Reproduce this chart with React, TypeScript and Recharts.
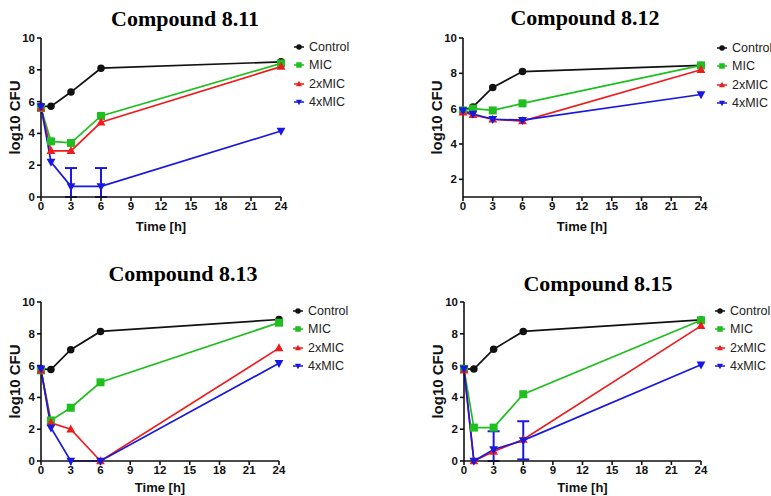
import React from 'react';
import { LineChart, Line, XAxis, YAxis, Legend, ErrorBar } from 'recharts';

const times = [0, 1, 3, 6, 24];
const timeTicks = [0, 3, 6, 9, 12, 15, 18, 21, 24];
const seriesNames = ['Control', 'MIC', '2xMIC', '4xMIC'];
const seriesKeys = ['control', 'mic', 'mic2', 'mic4'];
const seriesColors = ['#111111', '#1fbf1f', '#ee1c1c', '#1818e0'];

// Compound 8.11
const c811Control = [5.7, 5.7, 6.6, 8.1, 8.5];
const c811Mic = [5.6, 3.5, 3.4, 5.1, 8.4];
const c811Mic2 = [5.6, 2.9, 2.9, 4.7, 8.2];
const c811Mic4 = [5.7, 2.2, 0.67, 0.67, 4.15];
const c811Err4 = [null, null, [0.67, 1.15], [0.67, 1.15], null];

// Compound 8.12
const c812Control = [5.9, 6.1, 7.2, 8.1, 8.45];
const c812Mic = [5.9, 6.0, 5.9, 6.3, 8.45];
const c812Mic2 = [5.8, 5.65, 5.4, 5.3, 8.2];
const c812Mic4 = [5.9, 5.7, 5.4, 5.35, 6.8];

// Compound 8.13
const c813Control = [5.8, 5.75, 7.0, 8.15, 8.9];
const c813Mic = [5.7, 2.55, 3.35, 4.95, 8.7];
const c813Mic2 = [5.7, 2.4, 2.0, 0, 7.1];
const c813Mic4 = [5.8, 2.1, 0, 0, 6.15];

// Compound 8.15
const c815Control = [5.8, 5.78, 7.03, 8.15, 8.87];
const c815Mic = [5.8, 2.1, 2.1, 4.2, 8.85];
const c815Mic2 = [5.7, 0, 0.6, 1.35, 8.5];
const c815Mic4 = [5.8, 0, 0.72, 1.3, 6.05];
const c815Err4 = [null, null, [0.72, 1.15], [1.2, 1.2], null];

const yTicksFull = [0, 2, 4, 6, 8, 10];
const yTicksFrom2 = [2, 4, 6, 8, 10];

const W = 386;
const PLOT_H = 159;
const Y_AXIS_W = 35;
const X_AXIS_H = 36;

const marker = (i: number, cx: number, cy: number, s: number, color: string, key?: any) => {
  if (i === 0) return <circle key={key} cx={cx} cy={cy} r={s / 2} fill={color} />;
  if (i === 1) return <rect key={key} x={cx - s / 2} y={cy - s / 2} width={s} height={s} fill={color} />;
  if (i === 2)
    return <polygon key={key} points={`${cx},${cy - s * 0.6} ${cx - s * 0.55},${cy + s * 0.4} ${cx + s * 0.55},${cy + s * 0.4}`} fill={color} />;
  return <polygon key={key} points={`${cx},${cy + s * 0.6} ${cx - s * 0.55},${cy - s * 0.4} ${cx + s * 0.55},${cy - s * 0.4}`} fill={color} />;
};

const makeDot = (i: number) => (props: any) => {
  const { cx, cy, index } = props;
  if (cx == null || cy == null) return <g key={`d${i}-${index}`} />;
  return marker(i, cx, cy, i === 0 ? 7.5 : 8, seriesColors[i], `d${i}-${index}`);
};

const renderLegend = (props: any) => {
  const items = [...(props.payload || [])].sort(
    (a: any, b: any) => seriesNames.indexOf(a.value) - seriesNames.indexOf(b.value)
  );
  return (
    <div>
      {items.map((entry: any) => {
        const i = seriesNames.indexOf(entry.value);
        return (
          <div key={entry.value} style={{ display: 'flex', alignItems: 'center', height: 18.3 }}>
            <svg width={12} height={10}>
              <line x1={1} x2={11} y1={5} y2={5} stroke={seriesColors[i]} strokeWidth={1.5} />
              {marker(i, 6, 5, 5.5, seriesColors[i])}
            </svg>
            <span style={{ marginLeft: 4, fontFamily: '"Liberation Sans", Arial, sans-serif', fontSize: 12.5, color: '#222' }}>
              {entry.value}
            </span>
          </div>
        );
      })}
    </div>
  );
};

const YTitle = (props: any) => {
  const { viewBox } = props;
  const x = viewBox.x + 8;
  const y = viewBox.y + viewBox.height / 2;
  return (
    <text x={x} y={y} transform={`rotate(-90, ${x}, ${y})`} textAnchor="middle" dominantBaseline="central"
      style={{ fontFamily: '"Liberation Sans", Arial, sans-serif', fontSize: 15, fontWeight: 'bold', fill: '#111' }}>
      log10 CFU
    </text>
  );
};

const makeXTitle = (dy: number) => (props: any) => {
  const { viewBox } = props;
  return (
    <text x={viewBox.x + viewBox.width / 2} y={viewBox.y + dy} textAnchor="middle"
      style={{ fontFamily: '"Liberation Sans", Arial, sans-serif', fontSize: 13, fontWeight: 'bold', fill: '#111' }}>
      Time [h]
    </text>
  );
};

const tickStyle = { fill: '#111', fontSize: 11.5, fontWeight: 'bold', fontFamily: '"Liberation Sans", Arial, sans-serif' };

interface PanelProps {
  title: string;
  series: number[][];
  err4?: any[];
  yDomain: [number, number];
  yTicks: number[];
  left: number;
  top: number;
  height: number;
  plotLeft: number;
  plotTop: number;
  plotRight: number;
  titleX: number;
  titleY: number;
  legendX: number;
  legendY: number;
  xTitleDy: number;
}

const Panel = (p: PanelProps) => {
  const data = times.map((t, k) => ({
    t,
    control: p.series[0][k],
    mic: p.series[1][k],
    mic2: p.series[2][k],
    mic4: p.series[3][k],
    err4: p.err4 ? p.err4[k] : null,
  }));
  const bottom = p.height - p.plotTop - PLOT_H - X_AXIS_H;
  const XTitle = makeXTitle(p.xTitleDy);
  return (
    <div style={{ position: 'absolute', left: p.left, top: p.top, width: W, height: p.height }}>
      <div style={{
        position: 'absolute', left: p.titleX - 120, width: 240, top: p.titleY - 14, height: 28, lineHeight: '28px',
        textAlign: 'center', fontFamily: '"Liberation Serif", "Times New Roman", serif', fontWeight: 'bold', fontSize: 22, color: '#000',
      }}>
        {p.title}
      </div>
      <LineChart width={W} height={p.height} data={data}
        margin={{ top: p.plotTop, left: p.plotLeft - Y_AXIS_W, right: W - p.plotRight, bottom }}>
        <XAxis dataKey="t" type="number" domain={[0, 24]} ticks={timeTicks} height={X_AXIS_H}
          axisLine={{ stroke: '#111', strokeWidth: 1.6 }} tickLine={{ stroke: '#111', strokeWidth: 1.6 }}
          tickSize={4} tickMargin={1} tick={tickStyle} interval={0} label={<XTitle />} />
        <YAxis type="number" domain={p.yDomain} ticks={p.yTicks} width={Y_AXIS_W}
          axisLine={{ stroke: '#111', strokeWidth: 1.6 }} tickLine={{ stroke: '#111', strokeWidth: 1.6 }}
          tickSize={4} tickMargin={2} tick={tickStyle} interval={0} label={<YTitle />} />
        <Legend layout="vertical" align="center" verticalAlign="middle" content={renderLegend}
          wrapperStyle={{ left: p.legendX, top: p.legendY, right: 'auto', bottom: 'auto', width: 90, height: 80 }} />
        {seriesKeys.map((key, i) => (
          <Line key={key} dataKey={key} name={seriesNames[i]} stroke={seriesColors[i]} strokeWidth={1.7}
            dot={makeDot(i)} activeDot={false} isAnimationActive={false}>
            {i === 3 && p.err4 ? (
              <ErrorBar dataKey="err4" direction="y" width={6} strokeWidth={2} stroke={seriesColors[3]} />
            ) : null}
          </Line>
        ))}
      </LineChart>
    </div>
  );
};

export default function App() {
  return (
    <div style={{ position: 'absolute', left: 0, top: 0, width: 771, height: 496, background: '#fff', overflow: 'hidden' }}>
      <Panel title="Compound 8.11" series={[c811Control, c811Mic, c811Mic2, c811Mic4]} err4={c811Err4}
        yDomain={[0, 10]} yTicks={yTicksFull} left={0} top={0} height={246} xTitleDy={34}
        plotLeft={41} plotTop={38} plotRight={281} titleX={185} titleY={19} legendX={293} legendY={38} />
      <Panel title="Compound 8.12" series={[c812Control, c812Mic, c812Mic2, c812Mic4]}
        yDomain={[1, 10]} yTicks={yTicksFrom2} left={385} top={0} height={246} xTitleDy={34}
        plotLeft={78} plotTop={38} plotRight={316} titleX={200} titleY={18} legendX={331} legendY={39} />
      <Panel title="Compound 8.13" series={[c813Control, c813Mic, c813Mic2, c813Mic4]}
        yDomain={[0, 10]} yTicks={yTicksFull} left={0} top={250} height={246} xTitleDy={31}
        plotLeft={41} plotTop={52} plotRight={279} titleX={183} titleY={24} legendX={292} legendY={52} />
      <Panel title="Compound 8.15" series={[c815Control, c815Mic, c815Mic2, c815Mic4]} err4={c815Err4}
        yDomain={[0, 10]} yTicks={yTicksFull} left={385} top={250} height={246} xTitleDy={31}
        plotLeft={79} plotTop={52} plotRight={316} titleX={213} titleY={34} legendX={329} legendY={52} />
    </div>
  );
}
